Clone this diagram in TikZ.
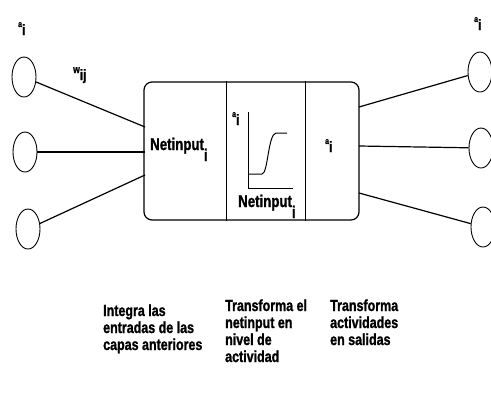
\documentclass[tikz,border=0pt]{standalone}
\usepackage{fontspec}
\setmainfont{Liberation Sans}[FakeStretch=0.78, BoldFont={Liberation Sans Bold}, BoldFeatures={FakeStretch=0.78, FakeBold=1.2}]
\usetikzlibrary{shapes}

\newcommand\acti{{\fontsize{9}{9}\selectfont a}\raisebox{-8pt}{i}}
\newcommand\weight{{\fontsize{11}{11}\selectfont w}\raisebox{-7pt}{ij}}
\newcommand\netin{Netinput\raisebox{-11pt}{i}}

\begin{document}
\begin{tikzpicture}[x=1pt,y=-1pt,
  neuron/.style={draw, ellipse, line width=0.9pt, minimum width=24pt, minimum height=40pt, inner sep=0pt},
  wire/.style={line width=1.2pt},
  lbl/.style={font=\fontsize{16}{17}\selectfont\bfseries, inner sep=0pt, anchor=base west, align=left},
  sym/.style={font=\fontsize{15}{15}\selectfont\bfseries, inner sep=0pt, anchor=base west}]
\useasboundingbox (0,0) rectangle (491,400);

% unit in the middle
\node[draw, wire, rounded corners=8pt, minimum width=215pt, minimum height=138pt] (box) at (251.5,151) {};
\draw[wire] ([xshift=83pt]box.north west) -- ([xshift=83pt]box.south west);
\draw[wire] ([xshift=162pt]box.north west) -- ([xshift=162pt]box.south west);

% neighbouring units
\node[neuron] (l1) at (24,77) {};
\node[neuron] (l2) at (25,152) {};
\node[neuron] (l3) at (28,229) {};
\node[neuron] (r1) at (480,72) {};
\node[neuron] (r2) at (481,148) {};
\node[neuron] (r3) at (483,227) {};

\coordinate (in1) at (145,127);
\coordinate (in2) at (145,152);
\coordinate (in3) at (145,175);
\coordinate (out1) at (359,107);
\coordinate (out2) at (359,146);
\coordinate (out3) at (359,193);

\draw[wire] (l1) -- (in1);
\draw[wire] (l2) -- (in2);
\draw[wire] (l3) -- (in3);
\draw[wire] (out1) -- (r1);
\draw[wire] (out2) -- (r2);
\draw[wire] (out3) -- (r3);

% activation function
\draw[line width=1pt] (248,112) -- (248,188) -- (293,188);
\draw[line width=1pt] (248,174) -- (262,174) .. controls (268,174) and (268,134) .. (276,133) -- (287,133);

\node[sym] (aleft) at (18,27) {\acti};
\node[sym] (aright) at (474,22) {\acti};
\node[sym] (afun) at (232,117) {\acti};
\node[sym] (aout) at (325,144) {\acti};
\node[sym] (wij) at (73,73) {\weight};

\node[lbl, font=\fontsize{17}{17}\selectfont\bfseries] (net) at (150,150) {\netin};
\node[lbl, font=\fontsize{17}{17}\selectfont\bfseries] (netfun) at (238,207) {\netin};

% last baselines of the captions
\node[lbl] (integra) at (103,350) {Integra las\\entradas de las\\capas anteriores};
\node[lbl] (transf) at (225,362) {Transforma el\\netinput en\\nivel de\\actividad};
\node[lbl] (salidas) at (330,345) {Transforma\\actividades\\en salidas};
\end{tikzpicture}
\end{document}
